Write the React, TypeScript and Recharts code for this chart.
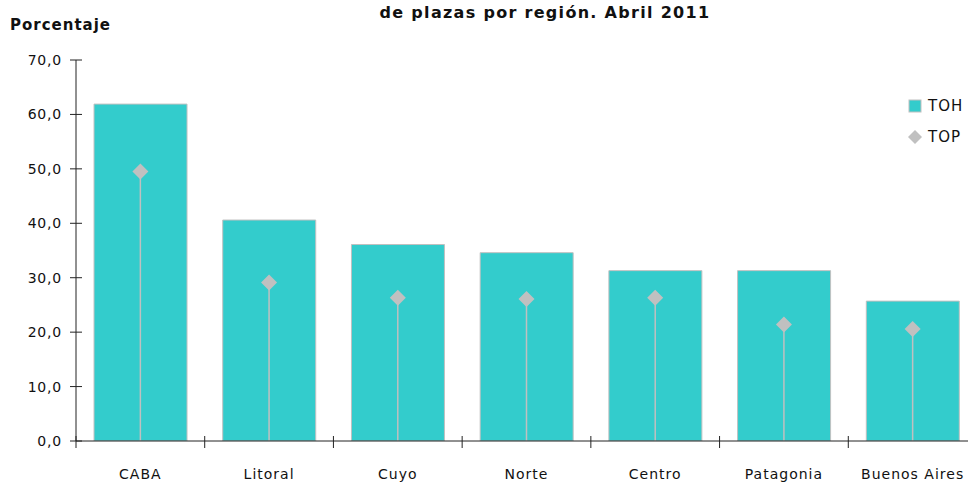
import React from "react";
import {
  ComposedChart,
  Bar,
  Scatter,
  ErrorBar,
  XAxis,
  YAxis,
  Legend,
} from "recharts";

const regions = ["CABA", "Litoral", "Cuyo", "Norte", "Centro", "Patagonia", "Buenos Aires"];
const tohValues = [61.9, 40.6, 36.1, 34.6, 31.3, 31.3, 25.7];
const topValues = [49.5, 29.1, 26.3, 26.1, 26.3, 21.4, 20.6];
const yTicks = [0, 10, 20, 30, 40, 50, 60, 70];

const TOH_COLOR = "#33CCCC";
const TOP_COLOR = "#C0C0C0";
const AXIS_COLOR = "#222";
const FONT = "'DejaVu Sans', Verdana, sans-serif";

const data = regions.map((name, i) => ({
  name,
  toh: tohValues[i],
  top: topValues[i],
  // drop line from the marker down to zero
  topErr: [topValues[i], 0],
}));

const fmt = (v: number) => v.toFixed(1).replace(".", ",");

// chart geometry
const CHART_W = 990;
const CHART_H = 483;
const Y_AXIS_W = 76;
const X_AXIS_H = 42;
const MARGIN = { top: 60, right: 13, bottom: 0, left: 0 };
const BAND = (CHART_W - MARGIN.right - Y_AXIS_W) / regions.length;

function YTick({ x, y, payload }: any) {
  return (
    <g>
      <line x1={x - 6} x2={x + 6} y1={y} y2={y} stroke={AXIS_COLOR} />
      <text
        x={x - 14}
        y={y}
        textAnchor="end"
        dominantBaseline="central"
        fontSize={14}
        letterSpacing={0.8}
        fill="#111"
        fontFamily={FONT}
      >
        {fmt(payload.value)}
      </text>
    </g>
  );
}

function XTick({ x, y, payload }: any) {
  const left = x - BAND / 2;
  return (
    <g>
      <line x1={left} x2={left} y1={y - 5} y2={y + 7} stroke={AXIS_COLOR} />
      <text
        x={x}
        y={y + 33}
        textAnchor="middle"
        dominantBaseline="central"
        fontSize={14}
        letterSpacing={1}
        fill="#111"
        fontFamily={FONT}
      >
        {payload.value}
      </text>
    </g>
  );
}

function Diamond({ cx, cy }: any) {
  const r = 8;
  return (
    <polygon
      points={`${cx},${cy - r} ${cx + r},${cy} ${cx},${cy + r} ${cx - r},${cy}`}
      fill={TOP_COLOR}
    />
  );
}

function LegendContent({ payload }: any) {
  return (
    <div style={{ fontFamily: FONT, fontSize: 15, letterSpacing: 1, color: "#111" }}>
      {(payload || []).map((entry: any) => (
        <div
          key={entry.value}
          style={{ display: "flex", alignItems: "center", height: 31 }}
        >
          <svg width={14} height={14} style={{ marginRight: 6 }}>
            {entry.dataKey === "toh" ? (
              <rect x={1} y={1} width={12} height={12} fill={TOH_COLOR} stroke={TOP_COLOR} />
            ) : (
              <polygon points="7,0 14,7 7,14 0,7" fill={TOP_COLOR} />
            )}
          </svg>
          <span>{entry.value}</span>
        </div>
      ))}
    </div>
  );
}

export default function App() {
  return (
    <div
      style={{
        position: "fixed",
        left: 0,
        top: 0,
        width: 968,
        height: 483,
        overflow: "hidden",
        background: "#fff",
        fontFamily: FONT,
      }}
    >
      <div
        style={{
          position: "absolute",
          left: 345,
          width: 400,
          top: 3,
          textAlign: "center",
          fontSize: 16,
          fontWeight: "bold",
          letterSpacing: 1.3,
          color: "#111",
          whiteSpace: "nowrap",
        }}
      >
        de plazas por región. Abril 2011
      </div>
      <div
        style={{
          position: "absolute",
          left: 10,
          top: 16,
          fontSize: 15,
          fontWeight: "bold",
          letterSpacing: 1,
          color: "#111",
        }}
      >
        Porcentaje
      </div>
      <ComposedChart width={CHART_W} height={CHART_H} data={data} margin={MARGIN} barCategoryGap="14%">
        <XAxis
          dataKey="name"
          height={X_AXIS_H}
          tickSize={0}
          tickMargin={0}
          tickLine={false}
          axisLine={{ stroke: AXIS_COLOR }}
          tick={<XTick />}
          interval={0}
        />
        <YAxis
          width={Y_AXIS_W}
          domain={[0, 70]}
          ticks={yTicks}
          tickSize={0}
          tickMargin={0}
          tickLine={false}
          axisLine={{ stroke: AXIS_COLOR }}
          tick={<YTick />}
          allowDataOverflow
        />
        <Legend
          layout="vertical"
          align="center"
          verticalAlign="middle"
          content={<LegendContent />}
          wrapperStyle={{ left: 908, top: 90, width: 70, height: 62 }}
        />
        <Bar
          dataKey="toh"
          name="TOH"
          fill={TOH_COLOR}
          stroke={TOP_COLOR}
          strokeWidth={1}
          isAnimationActive={false}
        />
        <Scatter
          dataKey="top"
          name="TOP"
          fill={TOP_COLOR}
          shape={<Diamond />}
          isAnimationActive={false}
        >
          <ErrorBar
            dataKey="topErr"
            direction="y"
            width={0}
            stroke={TOP_COLOR}
            strokeWidth={1.5}
            isAnimationActive={false}
          />
        </Scatter>
      </ComposedChart>
    </div>
  );
}
